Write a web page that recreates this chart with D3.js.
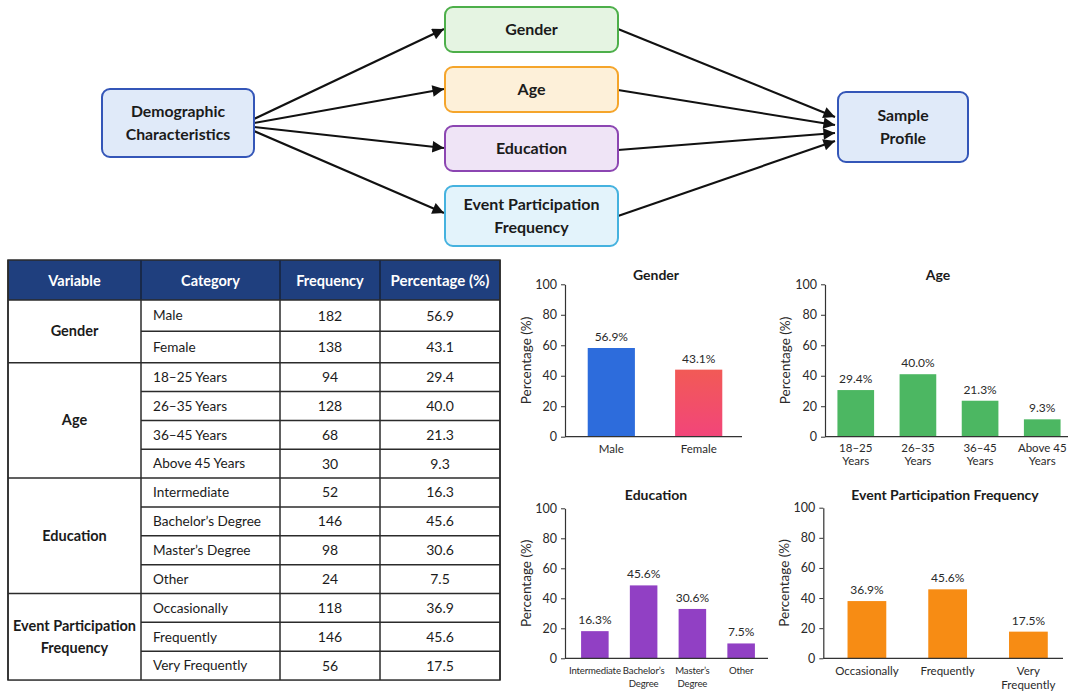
<!DOCTYPE html>
<html><head><meta charset="utf-8">
<script src="https://cdn.jsdelivr.net/npm/d3@7"></script>
<style>
body{margin:0;background:#fff;}
svg{display:block;font-family:Lato,"Noto Sans",sans-serif;}
</style>
</head><body>
<svg id="c" width="1068" height="694"></svg>
<script>
// ---------------- DATA ----------------
const flowSource = ["Demographic", "Characteristics"];
const flowMiddle = [["Gender"], ["Age"], ["Education"], ["Event Participation", "Frequency"]];
const flowTarget = ["Sample", "Profile"];

const tableHeader = ["Variable", "Category", "Frequency", "Percentage (%)"];
const variableNames = [["Gender"], ["Age"], ["Education"], ["Event Participation", "Frequency"]];

const genderCats = ["Male", "Female"];
const genderFreq = [182, 138];
const genderPct = [56.9, 43.1];
const genderBar = [58.2, 44.0];

const ageCats = ["18–25 Years", "26–35 Years", "36–45 Years", "Above 45 Years"];
const ageFreq = [94, 128, 68, 30];
const agePct = [29.4, 40.0, 21.3, 9.3];
const ageBar = [30.6, 41.0, 23.6, 11.4];
const ageTicks = [["18–25", "Years"], ["26–35", "Years"], ["36–45", "Years"], ["Above 45", "Years"]];

const eduCats = ["Intermediate", "Bachelor’s Degree", "Master’s Degree", "Other"];
const eduFreq = [52, 146, 98, 24];
const eduPct = [16.3, 45.6, 30.6, 7.5];
const eduBar = [18.1, 48.6, 32.9, 9.9];
const eduTicks = [["Intermediate"], ["Bachelor’s", "Degree"], ["Master’s", "Degree"], ["Other"]];

const eventCats = ["Occasionally", "Frequently", "Very Frequently"];
const eventFreq = [118, 146, 56];
const eventPct = [36.9, 45.6, 17.5];
const eventBar = [38.0, 45.8, 17.7];
const eventTicks = [["Occasionally"], ["Frequently"], ["Very", "Frequently"]];

const yTicks = [0, 20, 40, 60, 80, 100];

// ---------------- DRAW ----------------
const svg = d3.select("#c");
const defs = svg.append("defs");
defs.append("marker").attr("id", "arr").attr("viewBox", "0 0 10 10")
  .attr("refX", 10).attr("refY", 5).attr("markerWidth", 6).attr("markerHeight", 5.5)
  .attr("markerUnits", "strokeWidth").attr("orient", "auto")
  .append("path").attr("d", "M0,0L10,5L0,10Z").attr("fill", "#111");
const fg = defs.append("linearGradient").attr("id", "femGrad").attr("x1", 0).attr("y1", 0).attr("x2", 0).attr("y2", 1);
fg.append("stop").attr("offset", "0%").attr("stop-color", "#f25a56");
fg.append("stop").attr("offset", "100%").attr("stop-color", "#f2457a");

// ---- flow diagram ----
const boxStyles = [
  {x: 445, y: 7, w: 173, h: 45, fill: "#e5f4e2", stroke: "#4daf4a"},
  {x: 445, y: 67, w: 173, h: 45, fill: "#fdf0d9", stroke: "#f5a52b"},
  {x: 445, y: 126, w: 173, h: 45, fill: "#efe4f6", stroke: "#8c46b2"},
  {x: 445, y: 186, w: 173, h: 60, fill: "#e3f3fb", stroke: "#45b2df"}
];
const srcBox = {x: 102, y: 89, w: 152, h: 68, fill: "#e0eaf9", stroke: "#3456b8"};
const tgtBox = {x: 838, y: 92, w: 130, h: 70, fill: "#e0eaf9", stroke: "#3456b8"};
const leftStartY = [119, 123, 127, 131];
const leftEndY = [29, 89, 148, 213];
const rightStartY = [29, 90, 150, 216];
const rightEndY = [117, 125, 133, 141];

const arrows = svg.append("g");
flowMiddle.forEach((d, i) => {
  arrows.append("line").attr("x1", srcBox.x + srcBox.w).attr("y1", leftStartY[i])
    .attr("x2", boxStyles[i].x - 1).attr("y2", leftEndY[i])
    .attr("stroke", "#111").attr("stroke-width", 2.1).attr("marker-end", "url(#arr)");
  arrows.append("line").attr("x1", boxStyles[i].x + boxStyles[i].w).attr("y1", rightStartY[i])
    .attr("x2", tgtBox.x - 3).attr("y2", rightEndY[i])
    .attr("stroke", "#111").attr("stroke-width", 2.1).attr("marker-end", "url(#arr)");
});

function drawBox(b, lines, fs) {
  const g = svg.append("g");
  g.append("rect").attr("x", b.x).attr("y", b.y).attr("width", b.w).attr("height", b.h)
    .attr("rx", 8).attr("fill", b.fill).attr("stroke", b.stroke).attr("stroke-width", 2);
  const lh = 22.5;
  const cy = b.y + b.h / 2 - (lines.length - 1) * lh / 2;
  lines.forEach((t, j) => {
    g.append("text").attr("x", b.x + b.w / 2).attr("y", cy + j * lh).attr("dy", "0.35em")
      .attr("text-anchor", "middle").attr("font-weight", 700).attr("font-size", fs)
      .attr("fill", "#1b1b1b").text(t);
  });
}
drawBox(srcBox, flowSource, 15.8);
flowMiddle.forEach((d, i) => drawBox(boxStyles[i], d, 16));
drawBox(tgtBox, flowTarget, 15.8);

// ---- table ----
const colX = [8, 141, 280, 380, 500];
const headTop = 260, headBot = 300;
const groups = [
  {cats: genderCats, freq: genderFreq, pct: genderPct},
  {cats: ageCats, freq: ageFreq, pct: agePct},
  {cats: eduCats, freq: eduFreq, pct: eduPct},
  {cats: eventCats, freq: eventFreq, pct: eventPct}
];
const rowH = [31.35, 31.35, 28.85, 28.85, 28.85, 28.85, 28.85, 28.85, 28.85, 28.85, 28.85, 28.85, 28.85];
const rowTop = [];
let acc = headBot;
rowH.forEach(h => { rowTop.push(acc); acc += h; });
const tableBottom = acc;

const tg = svg.append("g");
tg.append("rect").attr("x", colX[0]).attr("y", headTop).attr("width", colX[4] - colX[0])
  .attr("height", headBot - headTop).attr("fill", "#1f3f7e");
tableHeader.forEach((h, i) => {
  tg.append("text").attr("x", (colX[i] + colX[i + 1]) / 2).attr("y", (headTop + headBot) / 2 + 1)
    .attr("dy", "0.35em").attr("text-anchor", "middle").attr("font-weight", 700)
    .attr("font-size", i === 3 ? 15 : 14.5).attr("fill", "#fff").text(h);
});
let r = 0;
groups.forEach((g, gi) => {
  const gTop = rowTop[r];
  g.cats.forEach((c, k) => {
    const y = rowTop[r] + rowH[r] / 2;
    tg.append("text").attr("x", colX[1] + 12).attr("y", y).attr("dy", "0.35em")
      .attr("font-size", 13.6).attr("fill", "#1b1b1b").text(c);
    tg.append("text").attr("x", (colX[2] + colX[3]) / 2).attr("y", y).attr("dy", "0.35em")
      .attr("text-anchor", "middle").attr("font-size", 14).attr("fill", "#1b1b1b").text(g.freq[k]);
    tg.append("text").attr("x", (colX[3] + colX[4]) / 2).attr("y", y).attr("dy", "0.35em")
      .attr("text-anchor", "middle").attr("font-size", 14).attr("fill", "#1b1b1b").text(g.pct[k].toFixed(1));
    if (k > 0) {
      tg.append("line").attr("x1", colX[1]).attr("x2", colX[4]).attr("y1", rowTop[r]).attr("y2", rowTop[r])
        .attr("stroke", "#2b2b2b").attr("stroke-width", 1.5);
    }
    r++;
  });
  const gBot = rowTop[r - 1] + rowH[r - 1];
  const lines = variableNames[gi];
  const lh = 21.5;
  const cy = (gTop + gBot) / 2 - (lines.length - 1) * lh / 2;
  lines.forEach((t, j) => {
    tg.append("text").attr("x", (colX[0] + colX[1]) / 2).attr("y", cy + j * lh).attr("dy", "0.35em")
      .attr("text-anchor", "middle").attr("font-weight", 700).attr("font-size", 14.5)
      .attr("fill", "#1b1b1b").text(t);
  });
  if (gi < groups.length - 1) {
    tg.append("line").attr("x1", colX[0]).attr("x2", colX[4]).attr("y1", gBot).attr("y2", gBot)
      .attr("stroke", "#2b2b2b").attr("stroke-width", 1.5);
  }
});
colX.forEach((x) => {
  tg.append("line").attr("x1", x).attr("x2", x).attr("y1", headTop)
    .attr("y2", tableBottom).attr("stroke", "#2b2b2b").attr("stroke-width", 1.5);
});
tg.append("rect").attr("x", colX[0]).attr("y", headTop).attr("width", colX[4] - colX[0])
  .attr("height", tableBottom - headTop).attr("fill", "none").attr("stroke", "#2b2b2b").attr("stroke-width", 1.5);
colX.slice(1, 4).forEach(x => {
  tg.append("line").attr("x1", x).attr("x2", x).attr("y1", headTop).attr("y2", headBot)
    .attr("stroke", "#15294f").attr("stroke-width", 1.5);
});
tg.append("line").attr("x1", colX[0]).attr("x2", colX[4]).attr("y1", headBot).attr("y2", headBot)
  .attr("stroke", "#2b2b2b").attr("stroke-width", 1.5);

// ---- charts ----
function drawChart(cfg) {
  const g = svg.append("g");
  const y = d3.scaleLinear().domain([0, 100]).range([cfg.y0, cfg.y100]);
  const x = d3.scaleBand().domain(cfg.ticks.map((d, i) => i)).range(cfg.xr)
    .paddingInner(cfg.pi).paddingOuter(cfg.po);

  g.selectAll("rect.bar").data(cfg.bars).join("rect").attr("class", "bar")
    .attr("x", (d, i) => x(i)).attr("width", x.bandwidth())
    .attr("y", d => y(d)).attr("height", d => y(0) - y(d))
    .attr("fill", (d, i) => Array.isArray(cfg.color) ? cfg.color[i] : cfg.color);

  g.selectAll("text.lbl").data(cfg.pct).join("text").attr("class", "lbl")
    .attr("x", (d, i) => x(i) + x.bandwidth() / 2).attr("y", (d, i) => y(cfg.bars[i]) - 7)
    .attr("text-anchor", "middle").attr("font-size", 12).attr("fill", "#2a2a2a")
    .text(d => d.toFixed(1) + "%");

  const ya = g.append("g").attr("transform", `translate(${cfg.axisX},0)`)
    .call(d3.axisLeft(y).tickValues(yTicks).tickSize(4).tickSizeOuter(0).tickPadding(4));
  ya.select(".domain").attr("stroke", "#333").attr("stroke-width", 1.2);
  ya.selectAll(".tick line").attr("stroke", "#333");
  ya.selectAll(".tick text").attr("font-size", 12.5).attr("fill", "#2a2a2a").attr("font-family", "Lato,'Noto Sans',sans-serif");

  const xa = g.append("g").attr("transform", `translate(0,${cfg.y0})`)
    .call(d3.axisBottom(x).tickSize(0).tickPadding(cfg.tickPad));
  xa.select(".domain").attr("d", `M${cfg.axisX},0H${cfg.axisEnd}`).attr("stroke", "#333").attr("stroke-width", 1.2);
  xa.selectAll(".tick text").each(function (d) {
    const t = d3.select(this);
    t.text(null).attr("font-size", cfg.tickFs).attr("fill", "#2a2a2a")
      .attr("letter-spacing", cfg.ls || 0)
      .attr("font-family", "Lato,'Noto Sans',sans-serif");
    cfg.ticks[d].forEach((s, j) => {
      t.append("tspan").attr("x", 0).attr("dy", j === 0 ? "0.71em" : cfg.lh).text(s);
    });
  });

  g.append("text").attr("x", cfg.titleX).attr("y", cfg.titleY).attr("dy", "0.35em")
    .attr("text-anchor", "middle").attr("font-weight", 700).attr("font-size", 14)
    .attr("fill", "#1b1b1b").text(cfg.title);

  g.append("text").attr("transform", `translate(${cfg.ylabX},${(cfg.y0 + cfg.y100) / 2}) rotate(-90)`)
    .attr("dy", "0.35em").attr("text-anchor", "middle").attr("font-size", 13.5)
    .attr("fill", "#2a2a2a").text("Percentage (%)");
}

drawChart({title: "Gender", ticks: genderCats.map(d => [d]), bars: genderBar, pct: genderPct,
  color: ["#2d6cdc", "url(#femGrad)"], y0: 436.7, y100: 284.3, xr: [565, 745], pi: 0.46, po: 0.26,
  axisX: 565, axisEnd: 742, tickFs: 11.5, tickPad: 8, lh: "1.15em", titleX: 656, titleY: 275, ylabX: 526});
drawChart({title: "Age", ticks: ageTicks, bars: ageBar, pct: agePct,
  color: "#4cb762", y0: 436.7, y100: 284.3, xr: [825, 1073], pi: 0.41, po: 0.2,
  axisX: 825, axisEnd: 1068, tickFs: 11.5, tickPad: 7, lh: "1.15em", titleX: 938, titleY: 275, ylabX: 785});
drawChart({title: "Education", ticks: eduTicks, bars: eduBar, pct: eduPct,
  color: "#9140c4", y0: 658.3, y100: 508.3, xr: [565, 771], pi: 0.435, po: 0.33,
  axisX: 565, axisEnd: 768, tickFs: 9.6, tickPad: 9, lh: "1.3em", ls: -0.15, titleX: 656, titleY: 495, ylabX: 526});
drawChart({title: "Event Participation Frequency", ticks: eventTicks, bars: eventBar, pct: eventPct,
  color: "#f78c14", y0: 658.3, y100: 507.7, xr: [823.3, 1072], pi: 0.52, po: 0.3,
  axisX: 823.3, axisEnd: 1063, tickFs: 11.5, tickPad: 9, lh: "1.2em", titleX: 945, titleY: 495, ylabX: 784});
</script>
</body></html>
